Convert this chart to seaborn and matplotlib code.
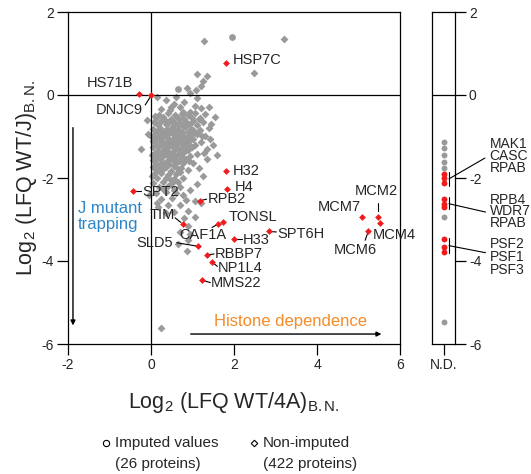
import matplotlib
matplotlib.use("Agg")
import matplotlib.pyplot as plt
import seaborn as sns
import pandas as pd
from matplotlib.lines import Line2D

# ---------------- data ----------------
grey_x = [
    1.28, 3.20, 2.48, 1.10, 1.35, 1.25, 0.87, 1.08, 0.95, 1.20,
    0.15, 0.35, 0.55, 0.80, 1.05, 1.20, 0.25, 0.45, 0.70, 0.95, 1.30, 0.60, 1.10, 1.40, 1.55, 1.45,
    0.20, 0.42, 0.58, 0.75, 0.90, 1.05, 0.12, 0.30, 0.48, 0.62, 0.80, 0.98, 1.15,
    0.08, 0.25, 0.40, 0.55, 0.70, 0.85, 1.00, 1.25, 0.18, 0.35, 0.52, 0.66, 0.78, 0.93, 1.10,
    0.05, 0.22, 0.38, 0.50, 0.64, 0.82, 0.97, 1.18, 1.40, 0.14, 0.30, 0.45, 0.60, 0.74, 0.88, 1.05,
    0.08, 0.20, 0.36, 0.53, 0.68, 0.80, 0.95, 1.12, 1.30, 0.15, 0.28, 0.44, 0.58, 0.72, 0.86, 1.02,
    0.06, 0.22, 0.38, 0.50, 0.65, 0.78, 0.92, 1.20, 0.12, 0.30, 0.45, 0.60, 0.74, 0.88, 1.05, 1.50,
    0.05, 0.20, 0.35, 0.52, 0.66, 0.82, 0.98, 1.35, 0.15, 0.28, 0.42, 0.58, 0.72, 0.90, -0.25,
    0.08, 0.22, 0.36, 0.50, 0.64, 0.80, 1.10, 0.14, 0.30, 0.45, 0.60, 0.75, 0.95,
    0.06, 0.22, 0.38, 0.52, 0.68, 0.85, 1.35, 0.12, 0.28, 0.44, 0.62, 0.78, 1.00,
    0.05, 0.20, 0.36, 0.55, 0.72, 0.15, 0.30, 0.48, 0.65, 0.90,
    0.08, 0.25, 0.42, 0.60, 0.15, 0.35, 0.55, 0.78, 1.25, 0.02,
    0.05, 0.28, 0.50, 0.20, 0.40, 0.70, 0.12, 0.35, 0.60, 0.95, -0.05, 0.25, 0.50, 0.85,
    0.40, 0.70, 0.55, 0.90, 0.80, 1.05, 1.05, 0.90, 0.95, 0.65, 0.87, 0.90, 0.70, 0.24, 0.15, -0.10,
    0.10, 0.33, 0.68, 0.88, 1.02, 0.27, 0.61, 0.90, 0.40, 0.76, 0.17, 0.55, 0.92, 0.35, 0.70,
    0.47, 0.30, 0.78, 1.15, 1.28, 1.42, 1.22, 0.48, 0.78, 1.18, 0.03, 0.02, -0.08, 0.55, 0.65,
    1.10, 0.18, 0.35, 1.60, 1.20,
]
grey_y = [
    1.30, 1.35, 0.54, 0.50, 0.46, 0.34, 0.17, 0.12, 0.05, 0.22,
    -0.06, -0.12, -0.22, -0.16, -0.26, -0.31, -0.33, -0.37, -0.29, -0.41, -0.46, -0.04, -0.07, -0.30, -0.52, -0.70,
    -0.47, -0.44, -0.48, -0.45, -0.49, -0.43, -0.56, -0.53, -0.57, -0.54, -0.58, -0.55, -0.57,
    -0.66, -0.63, -0.67, -0.64, -0.68, -0.65, -0.62, -0.66, -0.73, -0.71, -0.74, -0.72, -0.75, -0.70, -0.73,
    -0.81, -0.79, -0.82, -0.80, -0.83, -0.78, -0.81, -0.84, -0.80, -0.89, -0.87, -0.90, -0.86, -0.89, -0.88, -0.91,
    -0.96, -0.94, -0.97, -0.95, -0.93, -0.98, -0.96, -0.94, -0.99, -1.04, -1.02, -1.05, -1.01, -1.04, -1.03, -1.06,
    -1.11, -1.09, -1.12, -1.10, -1.13, -1.08, -1.11, -1.14, -1.19, -1.17, -1.20, -1.16, -1.19, -1.18, -1.21, -1.20,
    -1.26, -1.24, -1.27, -1.25, -1.28, -1.23, -1.26, -1.29, -1.34, -1.32, -1.35, -1.31, -1.34, -1.33, -1.30,
    -1.41, -1.39, -1.42, -1.40, -1.43, -1.38, -1.41, -1.49, -1.47, -1.50, -1.46, -1.49, -1.48,
    -1.57, -1.55, -1.58, -1.56, -1.59, -1.54, -1.55, -1.65, -1.63, -1.66, -1.62, -1.65, -1.64,
    -1.73, -1.71, -1.74, -1.72, -1.75, -1.81, -1.79, -1.82, -1.78, -1.81,
    -1.91, -1.89, -1.92, -1.90, -2.01, -1.99, -2.02, -2.00, -1.95, -1.96,
    -2.11, -2.09, -2.12, -2.21, -2.19, -2.22, -2.36, -2.34, -2.37, -2.30, -2.40, -2.51, -2.49, -2.52,
    -2.66, -2.64, -2.81, -2.79, -2.96, -2.94, -2.55, -3.15, -3.35, -3.60, -3.75, -3.50, -3.30, -5.61, -2.60, -0.60,
    -0.50, -0.60, -0.58, -0.70, -0.85, -0.92, -0.99, -1.14, -1.22, -1.28, -1.44, -1.52, -1.60, -1.68, -1.86,
    -2.05, -2.27, -2.42, -1.75, -1.40, -1.05, -0.98, -0.28, -0.40, -0.55, -1.00, -1.45, -0.95, -2.28, -2.10,
    -2.15, -2.70, -2.85, -1.45, -2.60,
]
imputed_main_x = [1.95, 0.66]
imputed_main_y = [1.40, 0.14]

red_names = ["HSP7C", "HS71B", "DNJC9", "H32", "H4", "SPT2", "RPB2", "TIM", "CAF1A", "TONSL",
             "H33", "SPT6H", "SLD5", "RBBP7", "NP1L4", "MMS22", "MCM7", "MCM2", "MCM4", "MCM6"]
red_x = [1.81, -0.29, 0.00, 1.81, 1.83, -0.43, 1.18, 0.77, 1.61, 1.73,
         2.00, 2.84, 1.13, 1.35, 1.47, 1.23, 5.08, 5.47, 5.52, 5.23]
red_y = [0.77, 0.02, 0.00, -1.83, -2.27, -2.31, -2.55, -3.10, -3.11, -3.06,
         -3.47, -3.28, -3.64, -3.86, -4.02, -4.46, -2.94, -2.94, -3.08, -3.28]

nd_grey_y = [-1.13, -1.28, -1.45, -1.61, -1.76, -2.94, -5.47]
nd_red_y = [-1.91, -2.00, -2.13, -2.51, -2.62, -2.70, -3.47, -3.67, -3.78]
nd_groups = [["MAK1", "CASC", "RPAB"], ["RPB4", "WDR7", "RPAB"], ["PSF2", "PSF1", "PSF3"]]

x_ticks = [-2, 0, 2, 4, 6]
x_tick_labels = ["-2", "0", "2", "4", "6"]
y_ticks = [2, 0, -2, -4, -6]
y_tick_labels = ["2", "0", "-2", "-4", "-6"]

# ---------------- style ----------------
sns.set_theme(style="ticks")
plt.rcParams["font.family"] = ["Liberation Sans", "DejaVu Sans"]
plt.rcParams["mathtext.fontset"] = "custom"
plt.rcParams["mathtext.rm"] = "Liberation Sans"
plt.rcParams["mathtext.it"] = "Liberation Sans:italic"
plt.rcParams["mathtext.bf"] = "Liberation Sans:bold"

W, H = 531, 474
fig = plt.figure(figsize=(W / 100, H / 100), dpi=100)
ax = fig.add_axes([68 / W, 1 - 344 / H, 332 / W, 332 / H])
ax2 = fig.add_axes([432 / W, 1 - 344 / H, 23 / W, 332 / H])

GREY = "#9a9a9a"
RED = "#ee1c1c"

df_grey = pd.DataFrame({"x": grey_x, "y": grey_y})
df_imp = pd.DataFrame({"x": imputed_main_x, "y": imputed_main_y})
df_red = pd.DataFrame({"x": red_x, "y": red_y, "name": red_names})

sns.scatterplot(data=df_grey, x="x", y="y", marker="D", s=16, color=GREY,
                linewidth=0, ax=ax, legend=False, zorder=2)
sns.scatterplot(data=df_imp, x="x", y="y", marker="o", s=24, color=GREY,
                linewidth=0, ax=ax, legend=False, zorder=2)
ax.axhline(0, color="black", lw=0.9, zorder=3)
ax.axvline(0, color="black", lw=0.9, zorder=3)
sns.scatterplot(data=df_red, x="x", y="y", marker="D", s=12, color=RED,
                linewidth=0, ax=ax, legend=False, zorder=5)

ax.set_xlim(-2, 6)
ax.set_ylim(-6, 2)
ax.set_xticks(x_ticks)
ax.set_xticklabels(x_tick_labels)
ax.set_yticks(y_ticks)
ax.set_yticklabels(y_tick_labels)
for sp in ax.spines.values():
    sp.set_visible(True)
    sp.set_color("black")
    sp.set_linewidth(0.9)
ax.tick_params(direction="out", length=8, width=0.9, labelsize=10, pad=2, color="black")
ax.set_xlabel(r"Log$_2$ (LFQ WT/4A)$_{\mathrm{B.N.}}$", fontsize=15.5, labelpad=13)
ax.set_ylabel(r"Log$_2$ (LFQ WT/J)$_{\mathrm{B.N.}}$", fontsize=15.5, labelpad=2)

# labels: name -> (text x, text y, ha, leader)
label_pos = {
    "HSP7C": (1.98, 0.84, "left", None),
    "HS71B": (-0.43, 0.29, "right", None),
    "DNJC9": (-0.19, -0.36, "right", ((-0.14, -0.24), (-0.02, -0.05))),
    "H32": (1.98, -1.83, "left", None),
    "H4": (2.02, -2.22, "left", None),
    "SPT2": (-0.21, -2.34, "left", ((-0.40, -2.31), (-0.23, -2.31))),
    "RPB2": (1.36, -2.51, "left", ((1.21, -2.54), (1.34, -2.51))),
    "TIM": (0.58, -2.89, "right", ((0.58, -2.96), (0.72, -3.07))),
    "CAF1A": (1.25, -3.37, "center", ((1.47, -3.19), (1.60, -3.12))),
    "TONSL": (1.86, -2.94, "left", None),
    "H33": (2.22, -3.49, "left", ((2.03, -3.47), (2.20, -3.47))),
    "SPT6H": (3.04, -3.35, "left", ((2.87, -3.29), (3.02, -3.30))),
    "SLD5": (0.53, -3.57, "right", ((0.62, -3.56), (1.10, -3.64))),
    "RBBP7": (1.54, -3.83, "left", ((1.38, -3.85), (1.52, -3.83))),
    "NP1L4": (1.61, -4.17, "left", ((1.50, -4.05), (1.60, -4.13))),
    "MMS22": (1.45, -4.53, "left", ((1.26, -4.47), (1.43, -4.52))),
    "MCM7": (5.06, -2.70, "right", None),
    "MCM2": (5.42, -2.31, "center", ((5.47, -2.60), (5.47, -2.80))),
    "MCM4": (5.35, -3.37, "left", None),
    "MCM6": (4.92, -3.73, "center", ((5.16, -3.50), (5.22, -3.33))),
}
for name in red_names:
    tx, ty, ha, leader = label_pos[name]
    ax.text(tx, ty, name, ha=ha, va="center", fontsize=10.5, zorder=6)
    if leader is not None:
        (x0, y0), (x1, y1) = leader
        ax.plot([x0, x1], [y0, y1], color="black", lw=0.8, zorder=4)

# annotations
ax.annotate("", xy=(-1.88, -5.62), xytext=(-1.88, -0.72),
            arrowprops=dict(arrowstyle="-|>", color="black", lw=1.0, mutation_scale=7))
ax.text(-1.77, -2.93, "J mutant\ntrapping", color="#2f86c6", fontsize=12,
        ha="left", va="center", linespacing=1.1)
ax.annotate("", xy=(5.62, -5.76), xytext=(0.89, -5.76),
            arrowprops=dict(arrowstyle="-|>", color="black", lw=1.0, mutation_scale=7))
ax.text(3.37, -5.45, "Histone dependence", color="#f68b28", fontsize=12,
        ha="center", va="center")

# ---------------- N.D. panel ----------------
df_nd_grey = pd.DataFrame({"x": [0.0] * len(nd_grey_y), "y": nd_grey_y})
df_nd_red = pd.DataFrame({"x": [0.0] * len(nd_red_y), "y": nd_red_y})
sns.scatterplot(data=df_nd_grey, x="x", y="y", marker="o", s=18, color=GREY,
                linewidth=0, ax=ax2, legend=False, zorder=3)
sns.scatterplot(data=df_nd_red, x="x", y="y", marker="o", s=18, color=RED,
                linewidth=0, ax=ax2, legend=False, zorder=4)
ax2.axhline(0, color="black", lw=0.9)
ax2.set_xlim(-1, 1)
ax2.set_ylim(-6, 2)
ax2.set_xticks([0])
ax2.set_xticklabels(["N.D."])
ax2.set_yticks(y_ticks)
ax2.set_yticklabels(y_tick_labels)
ax2.yaxis.tick_right()
ax2.set_xlabel("")
ax2.set_ylabel("")
for sp in ax2.spines.values():
    sp.set_visible(True)
    sp.set_color("black")
    sp.set_linewidth(0.9)
ax2.tick_params(direction="out", length=8, width=0.9, labelsize=10, pad=2, color="black")

brackets = [(-1.86, -2.19), (-2.46, -2.75), (-3.45, -3.81)]
leaders_nd = [((0.48, -2.02), (3.6, -1.52)), ((0.48, -2.62), (3.65, -2.82)),
              ((0.48, -3.63), (3.65, -3.80))]
label_mid = [-1.47, -2.80, -3.91]
label_spacing = [0.8, 0.78, 0.92]
for grp, (b0, b1), ((lx0, ly0), (lx1, ly1)), my, ls in zip(nd_groups, brackets, leaders_nd,
                                                         label_mid, label_spacing):
    ax2.plot([0.48, 0.48], [b0, b1], color="black", lw=0.8, clip_on=False)
    ax2.plot([lx0, lx1], [ly0, ly1], color="black", lw=0.8, clip_on=False)
    ax2.text(4.0, my, "\n".join(grp), ha="left", va="center", fontsize=10,
             linespacing=ls, clip_on=False)

# ---------------- legend ----------------
fig.add_artist(Line2D([106 / W], [1 - 443 / H], marker="o", markersize=4.5, markerfacecolor="white",
                      markeredgecolor="black", markeredgewidth=0.8, linestyle="none",
                      transform=fig.transFigure))
fig.add_artist(Line2D([254 / W], [1 - 443 / H], marker="D", markersize=3.3, markerfacecolor="white",
                      markeredgecolor="black", markeredgewidth=0.8, linestyle="none",
                      transform=fig.transFigure))
fig.text(115 / W, 1 - 443 / H, "Imputed values", fontsize=11, va="center", ha="left")
fig.text(115 / W, 1 - 464 / H, "(26 proteins)", fontsize=11, va="center", ha="left")
fig.text(263 / W, 1 - 443 / H, "Non-imputed", fontsize=11, va="center", ha="left")
fig.text(263 / W, 1 - 464 / H, "(422 proteins)", fontsize=11, va="center", ha="left")

fig.savefig("out.png", dpi=100, facecolor="white")
